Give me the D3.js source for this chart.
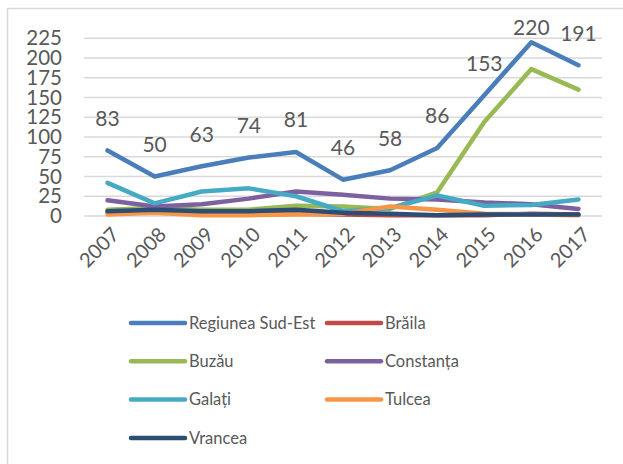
<!DOCTYPE html>
<html>
<head>
<meta charset="utf-8">
<script src="https://cdn.jsdelivr.net/npm/d3@7"></script>
<style>
  html, body { margin: 0; padding: 0; background: #fff; }
  svg { display: block; }
  text { font-family: Lato, "Open Sans", sans-serif; fill: #595959; }
</style>
</head>
<body>
<svg id="chart" width="623" height="464"></svg>
<script>
// Years on the horizontal axis
const years = ["2007", "2008", "2009", "2010", "2011", "2012", "2013", "2014", "2015", "2016", "2017"];

// Series values per county / region
const regiuneaSudEst = [83, 50, 63, 74, 81, 46, 58, 86, 153, 220, 191];
const braila        = [5, 6, 4, 4, 3, 2, 1, 1, 1, 3, 2];
const buzau         = [8, 10, 8, 8, 13, 12, 9, 30, 119, 186, 160];
const constanta     = [20, 12, 15, 22, 31, 27, 22, 21, 17, 15, 9];
const galati        = [42, 16, 31, 35, 25, 6, 10, 26, 13, 14, 21];
const tulcea        = [2, 4, 1, 1, 2, 3, 12, 8, 3, 2, 1];
const vrancea       = [6, 8, 6, 6, 8, 4, 3, 1, 2, 2, 2];

const yTicks = [0, 25, 50, 75, 100, 125, 150, 175, 200, 225];

const seriesNames  = ["Regiunea Sud-Est", "Brăila", "Buzău", "Constanța", "Galați", "Tulcea", "Vrancea"];
const seriesValues = [regiuneaSudEst, braila, buzau, constanta, galati, tulcea, vrancea];
const seriesColors = ["#4a7ebb", "#be4b48", "#98b954", "#7d60a0", "#46aac5", "#f79646", "#2c4d75"];

const series = seriesNames.map((name, i) => ({ name, values: seriesValues[i], color: seriesColors[i] }));

const svg = d3.select("#chart");

// Outer frame of the chart area
svg.append("rect")
  .attr("x", 7.5).attr("y", 8.5)
  .attr("width", 640).attr("height", 480)
  .attr("fill", "none")
  .attr("stroke", "#d9d9d9")
  .attr("stroke-width", 1.5);

const plot = { left: 84, right: 602, top: 38.3, bottom: 216 };

const x = d3.scaleBand().domain(years).range([plot.left, plot.right]);
const y = d3.scaleLinear().domain([0, 225]).range([plot.bottom, plot.top]);
const cx = d => x(d) + x.bandwidth() / 2;

// Horizontal gridlines
svg.append("g")
  .selectAll("line")
  .data(yTicks)
  .join("line")
  .attr("x1", plot.left).attr("x2", plot.right)
  .attr("y1", d => y(d)).attr("y2", d => y(d))
  .attr("stroke", "#d9d9d9")
  .attr("stroke-width", 1.5);

// Y axis labels
const yAxis = svg.append("g")
  .attr("transform", `translate(${plot.left - 22},0)`)
  .call(d3.axisLeft(y).tickValues(yTicks).tickSize(0).tickPadding(0));
yAxis.select(".domain").remove();
yAxis.selectAll("text")
  .style("font-family", "Lato, sans-serif")
  .style("font-size", "20.5px")
  .attr("fill", "#595959");

// X axis labels, rotated
const xAxis = svg.append("g")
  .attr("transform", `translate(0,${plot.bottom + 10})`)
  .call(d3.axisBottom(x).tickSize(0).tickPadding(0));
xAxis.select(".domain").remove();
xAxis.selectAll("text")
  .style("font-family", "Lato, sans-serif")
  .style("font-size", "20px")
  .attr("fill", "#595959")
  .attr("text-anchor", "end")
  .attr("dy", "0.7em")
  .attr("transform", "translate(3,0) rotate(-45)");

// Lines, in series order so later series sit on top
const line = d3.line()
  .x((d, i) => cx(years[i]))
  .y(d => y(d));

svg.append("g")
  .selectAll("path")
  .data(series)
  .join("path")
  .attr("d", d => line(d.values))
  .attr("fill", "none")
  .attr("stroke", d => d.color)
  .attr("stroke-width", 4.5)
  .attr("stroke-linejoin", "round")
  .attr("stroke-linecap", "round");

// Value labels for the region series
svg.append("g")
  .selectAll("text")
  .data(regiuneaSudEst)
  .join("text")
  .attr("x", (d, i) => cx(years[i]))
  .attr("y", d => Math.max(y(d) - 32, 28))
  .attr("dy", "0.35em")
  .attr("text-anchor", "middle")
  .style("font-size", "21px")
  .text(d => d);

// Legend: two columns
const legend = svg.append("g");
const legendItems = legend.selectAll("g")
  .data(series)
  .join("g")
  .attr("transform", (d, i) => `translate(${i % 2 === 0 ? 131 : 327},${323 + Math.floor(i / 2) * 38.3})`);
legendItems.append("line")
  .attr("x1", 0).attr("x2", 54)
  .attr("stroke", d => d.color)
  .attr("stroke-width", 4.5)
  .attr("stroke-linecap", "round");
legendItems.append("text")
  .attr("x", 58)
  .attr("dy", "0.35em")
  .style("font-size", "16.5px")
  .text(d => d.name);
</script>
</body>
</html>
